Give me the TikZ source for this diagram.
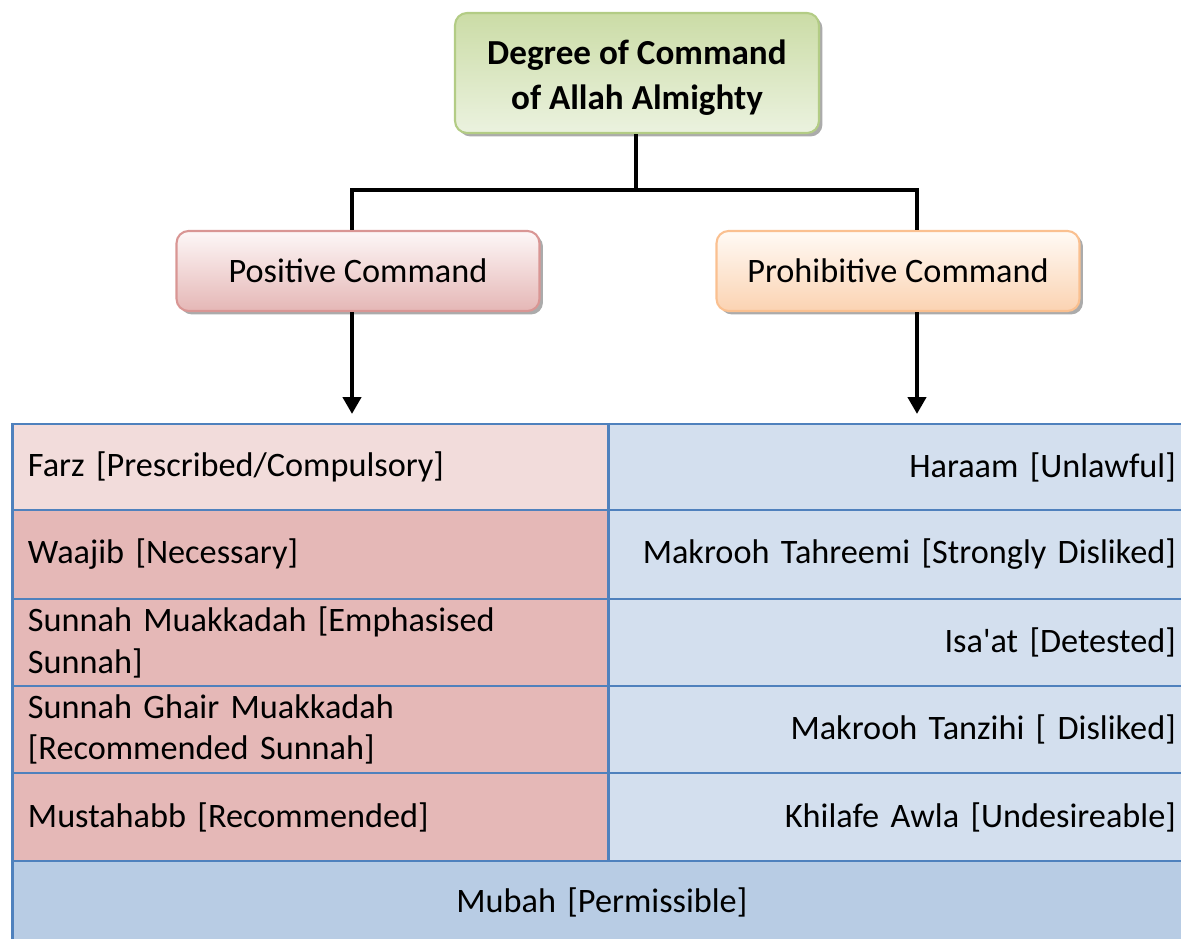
\documentclass[tikz,border=0pt]{standalone}
\usepackage{fontspec}
\setmainfont{Carlito}[Ligatures=TeXOff]
\usetikzlibrary{shadows,arrows.meta,calc}

\definecolor{grnTop}{HTML}{CBDCA6}
\definecolor{grnBot}{HTML}{EBF2DF}
\definecolor{grnLine}{HTML}{B3CC85}
\definecolor{redTop}{HTML}{FDF7F7}
\definecolor{redBot}{HTML}{E5B7B6}
\definecolor{redLine}{HTML}{D99694}
\definecolor{orgTop}{HTML}{FFFAF5}
\definecolor{orgBot}{HTML}{FBD3B2}
\definecolor{orgLine}{HTML}{FAC090}
\definecolor{tblLine}{HTML}{4F81BD}
\definecolor{farzFill}{HTML}{F2DCDB}
\definecolor{posFill}{HTML}{E5B8B7}
\definecolor{proFill}{HTML}{D3DFEE}
\definecolor{mubFill}{HTML}{B8CCE4}

\tikzset{
  roundbox/.style={rectangle, rounded corners=0.24cm, line width=1.2pt,
    align=center, inner sep=0pt},
  cell/.style={rectangle, draw=tblLine, line width=1.1pt, anchor=north west,
    inner xsep=0.3cm, inner ysep=0pt,
    font=\fontsize{19.5}{23.5}\selectfont},
  leftcell/.style={cell, fill=posFill, text width=11.3cm, align=left, minimum width=11.9cm},
  rightcell/.style={cell, fill=proFill, text width=11.06cm, align=right, minimum width=11.66cm},
  conn/.style={line width=2.8pt, line join=miter},
  arr/.style={conn, -{Triangle[width=0.36cm,length=0.34cm]}},
}

\begin{document}
\begin{tikzpicture}[x=0.02cm,y=-0.02cm]
\useasboundingbox (0,0) rectangle (1181,939);

% heading boxes
\node[roundbox, draw=grnLine, top color=grnTop, bottom color=grnBot,
      minimum width=7.28cm, minimum height=2.4cm,
      drop shadow={shadow xshift=0.07cm, shadow yshift=-0.07cm, fill=black!55, opacity=0.6},
      font=\fontsize{20}{25.6}\selectfont\bfseries] (top) at (637,73)
      {\raisebox{-0.09cm}[\height][\depth]{\shortstack{Degree of Command\\[0.17cm]of Allah Almighty}}};

\node[roundbox, draw=redLine, top color=redTop, bottom color=redBot,
      minimum width=7.26cm, minimum height=1.6cm,
      drop shadow={shadow xshift=0.07cm, shadow yshift=-0.07cm, fill=black!55, opacity=0.6},
      font=\fontsize{19.5}{23.5}\selectfont] (pos) at (358,271) {Positive Command};

\node[roundbox, draw=orgLine, top color=orgTop, bottom color=orgBot,
      minimum width=7.26cm, minimum height=1.6cm,
      drop shadow={shadow xshift=0.07cm, shadow yshift=-0.07cm, fill=black!55, opacity=0.6},
      font=\fontsize{19.5}{23.5}\selectfont] (pro) at (898,271) {Prohibitive Command};

% table: left column
\node[leftcell, fill=farzFill, minimum height=1.72cm] (farz) at (12,423) {Farz [Prescribed/Compulsory]};
\node[leftcell, minimum height=1.78cm] (waajib) at (12,509) {Waajib [Necessary]};
\node[leftcell, minimum height=1.74cm] (sm) at (12,598) {Sunnah Muakkadah [Emphasised\\{}Sunnah]};
\node[leftcell, minimum height=1.74cm] (sgm) at (12,685) {Sunnah Ghair Muakkadah\\{}[Recommended Sunnah]};
\node[leftcell, minimum height=1.76cm] (must) at (12,772) {Mustahabb [Recommended]};

% table: right column
\node[rightcell, minimum height=1.72cm] (haraam) at (607,423) {Haraam [Unlawful]};
\node[rightcell, minimum height=1.78cm] (mt) at (607,509) {Makrooh Tahreemi [Strongly Disliked]};
\node[rightcell, minimum height=1.74cm] (isaat) at (607,598) {Isa'at [Detested]};
\node[rightcell, minimum height=1.74cm] (mtz) at (607,685) {Makrooh Tanzihi [ Disliked]};
\node[rightcell, minimum height=1.76cm] (kh) at (607,772) {Khilafe Awla [Undesireable]};

% table: bottom row
\node[cell, fill=mubFill, minimum width=23.56cm, minimum height=1.64cm,
      text width=22.96cm, align=center] (mubah) at (12,860) {Mubah [Permissible]};

% column divider and outer left edge
\draw[tblLine, line width=1.7pt] (farz.north east) -- (must.south east);
\draw[tblLine, line width=1.6pt] (farz.north west) -- (mubah.south west);

% connectors
\coordinate (jL) at (352,190);
\coordinate (jR) at (917,190);
\coordinate (jM) at (636,190);
\draw[conn] (top.south -| jM) -- (jM);
\draw[conn] (pos.north -| jL) -- (jL) -- (jR) -- (pro.north -| jR);
\draw[arr, shorten >=0.18cm] (pos.south -| jL) -- (farz.north -| jL);
\draw[arr, shorten >=0.18cm] (pro.south -| jR) -- (haraam.north -| jR);
\end{tikzpicture}
\end{document}
